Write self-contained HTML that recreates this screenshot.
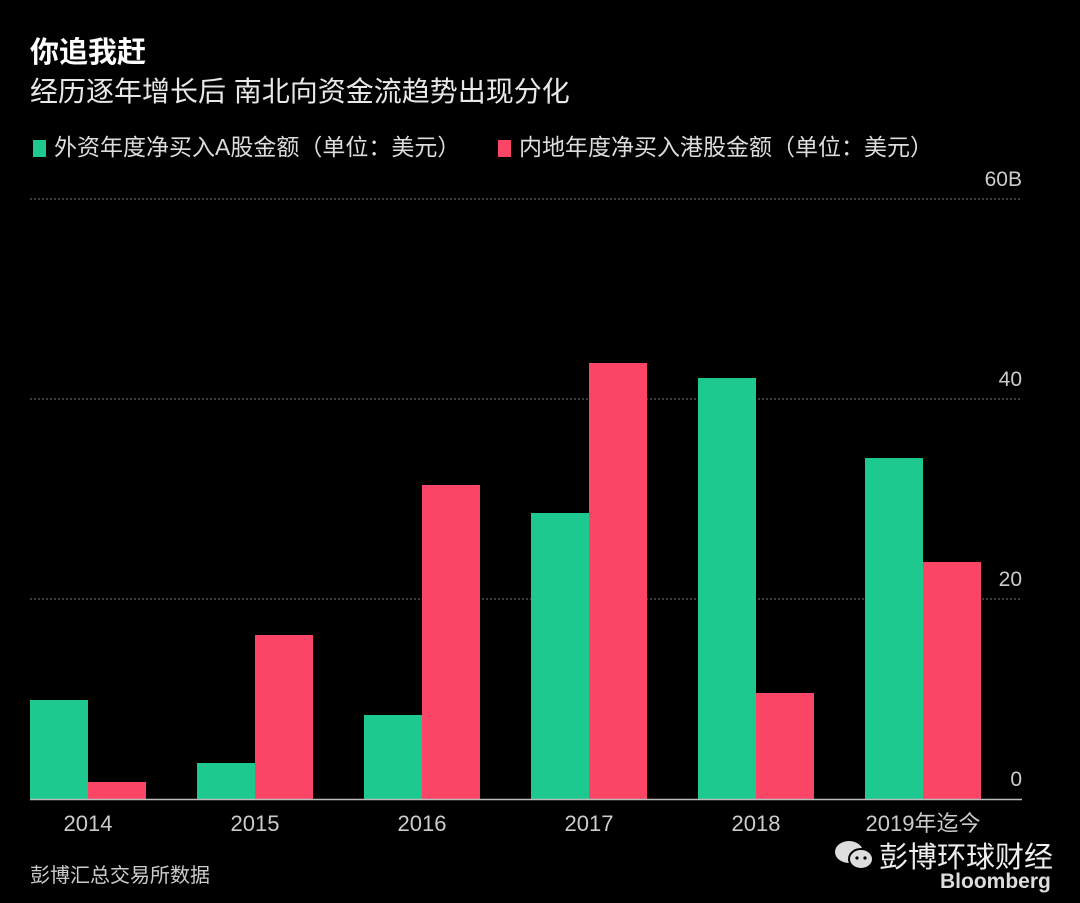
<!DOCTYPE html>
<html><head><meta charset="utf-8">
<style>
html,body{margin:0;padding:0;background:#000;}
body{width:1080px;height:903px;overflow:hidden;position:relative;font-family:"Liberation Sans","Noto Sans CJK SC",sans-serif;color:#fff;}
.t{position:absolute;white-space:nowrap;}
</style></head><body>
<div class="t" style="left:30px;top:29px;font-size:29px;font-weight:bold;">你追我赶</div>
<div class="t" style="left:30px;top:70px;font-size:28px;color:#e8e8e8;">经历逐年增长后 南北向资金流趋势出现分化</div>
<div class="t" style="left:33px;top:128px;font-size:23px;color:#ddd;"><span style="display:inline-block;width:13px;height:17px;background:#1dc98f;margin-right:8px;vertical-align:-2px;"></span>外资年度净买入A股金额（单位：美元）</div>
<div class="t" style="left:498px;top:128px;font-size:23px;color:#ddd;"><span style="display:inline-block;width:13px;height:17px;background:#fb4566;margin-right:8px;vertical-align:-2px;"></span>内地年度净买入港股金额（单位：美元）</div>
<svg id="chart" width="1080" height="903" style="position:absolute;left:0;top:0;"></svg>
<div class="t" style="left:30px;top:859px;font-size:20px;color:#ccc;">彭博汇总交易所数据</div>
<div class="t" style="left:833px;top:834px;font-size:29px;color:#eee;">
<svg width="46" height="36" style="vertical-align:-6px;"><ellipse cx="16" cy="15" rx="14" ry="11" fill="#ddd"/><ellipse cx="28" cy="22" rx="12" ry="10" fill="#ddd" stroke="#000" stroke-width="2"/><circle cx="24" cy="21" r="1.6" fill="#000"/><circle cx="32" cy="21" r="1.6" fill="#000"/></svg>彭博环球财经</div>
<div class="t" style="left:940px;top:870px;font-size:21px;font-weight:bold;color:#ddd;">Bloomberg</div>
<script>
const categories=["2014","2015","2016","2017","2018","2019年迄今"];
const seriesA=[9.9,3.6,8.4,28.6,42.1,34.1];
const seriesHK=[1.7,16.4,31.4,43.6,10.6,23.7];
const yTicks=[0,20,40,60];
const yTickLabels=["0","20","40","60B"];
const svg=document.getElementById('chart');
const NS="http://www.w3.org/2000/svg";
const y0=799,pxPer=10,x0=30,groupW=167,barW=58,xEnd=1022;
const y=v=>y0-v*pxPer;
const gx=i=>x0+58+i*groupW;
function mk(t,a){const e=document.createElementNS(NS,t);for(const k in a)e.setAttribute(k,a[k]);svg.appendChild(e);return e;}
yTicks.forEach((v,i)=>{
 if(v>0){const l=mk('line',{x1:x0,x2:xEnd,y1:y(v),y2:y(v),stroke:'#777','stroke-dasharray':'2,2','stroke-width':1});
 
 }
 const t=mk('text',{x:xEnd,y:y(v)-13,'text-anchor':'end',fill:'#ccc','font-size':21,'font-family':'Liberation Sans, sans-serif'});
 t.textContent=yTickLabels[i];
 
 
});
categories.forEach((c,i)=>{
 const a=mk('rect',{x:gx(i)-barW,y:y(seriesA[i]),width:barW,height:seriesA[i]*pxPer,fill:'#1dc98f'});
 
 
 const h=mk('rect',{x:gx(i),y:y(seriesHK[i]),width:barW,height:seriesHK[i]*pxPer,fill:'#fb4566'});
 
 
 const t=mk('text',{x:gx(i),y:831,'text-anchor':'middle',fill:'#ccc','font-size':22,'font-family':'Liberation Sans, Noto Sans CJK SC, sans-serif'});
 t.textContent=c;
 
 
});
const b=mk('line',{x1:x0,x2:xEnd,y1:y0+0.5,y2:y0+0.5,stroke:'#bbb','stroke-width':1.5});


</script>
</body></html>
